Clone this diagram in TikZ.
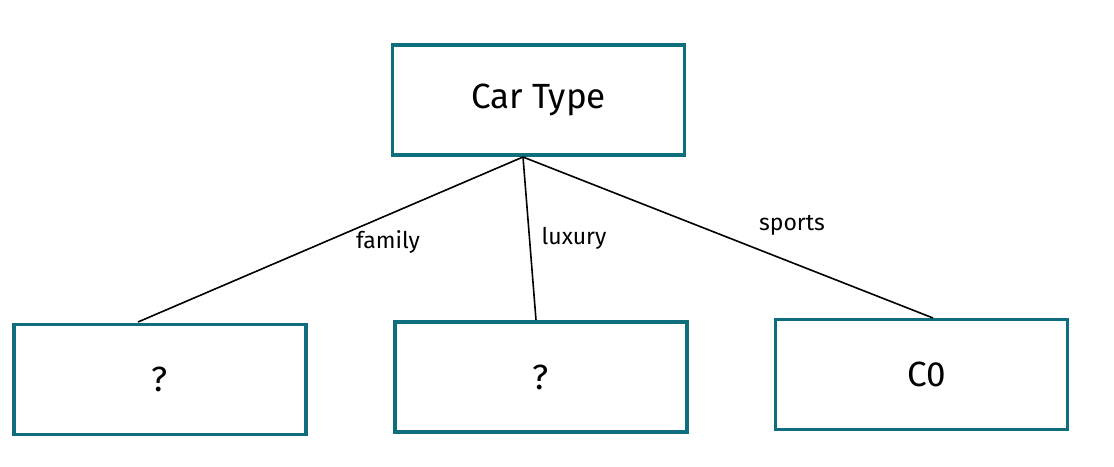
\documentclass[tikz,border=0pt]{standalone}
\usepackage{fontspec}
\setmainfont{Fira Sans}
\definecolor{teal}{RGB}{14,110,126}
\begin{document}
\begin{tikzpicture}[x=1pt,y=-1pt,
  box/.style={draw=teal,line width=3.5pt,minimum width=292pt,minimum height=110pt,inner sep=0pt,font=\fontsize{35}{40}\selectfont},
  edge/.style={line width=1.6pt,black},
  lbl/.style={font=\fontsize{23}{26}\selectfont,inner sep=0pt}]
\useasboundingbox (0,0) rectangle (1114,466);
\node[box] (root) at (538.5,100) {Car Type};
\node[box] (l) at (160,379.5) {\raisebox{-8pt}{?}};
\node[box] (m) at (541,377) {?};
\node[box] (r) at (921.5,374.5) {\hspace{10pt}C0};
\coordinate (rb) at (523,157);
\coordinate (lt) at (138,322);
\coordinate (mt) at (536,320);
\coordinate (rt) at (933,318);
\draw[edge] (rb) -- (lt);
\draw[edge] (rb) -- (mt);
\draw[edge] (rb) -- (rt);
\node[lbl] (lf) at (388,242) {family};
\node[lbl] (lx) at (574,238) {luxury};
\node[lbl] (ls) at (792,225) {sports};
\end{tikzpicture}
\end{document}
